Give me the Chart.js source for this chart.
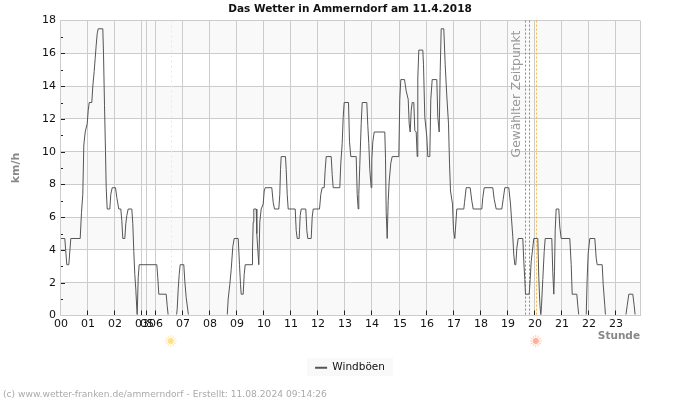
<!DOCTYPE html>
<html>
<head>
<meta charset="utf-8">
<title>Das Wetter in Ammerndorf</title>
<script src="https://cdn.jsdelivr.net/npm/chart.js@4"></script>
<style>
  html, body { margin: 0; padding: 0; background: #fff; }
  canvas { display: block; }
</style>
</head>
<body>
<canvas id="myChart" width="700" height="400"></canvas>
<script>
// sample number along the axis: the night hours 03-06 have few samples, so the hours are not evenly spaced
const hourLabels = ["00","01","02","03","05","06","07","08","09","10","11","12","13","14","15","16","17","18","19","20","21","22","23"];
const hourSlots = [0,27,54,81,86,95,122,149,176,203,230,257,284,311,339,366,393,420,447,474,501,528,555];
const lastSlot = 580;
const yTicks = [0,1,2,3,4,5,6,7,8,9,10,11,12,13,14,15,16,17,18];

const gustSlots = [
  0,4.8,6.8,8.8,10.8,20.2,21.5,22.8,23.8,25.2,27.2,28.2,29.2,31.8,32.8,34.2,35.2,36.2,37.2,38.2,
  42.8,43.5,44.5,45.5,46.2,47.2,49.8,50.8,52.2,55.5,56.8,58.8,60.8,61.8,62.8,64.8,65.8,66.8,68.2,71.8,
  72.8,73.8,74.8,75.8,76.8,77.2,77.8,78.2,79.2,96.8,97.8,98.8,106.2,107.2,108.2,116.5,117.2,118.2,119.2,120.2,
  123.8,124.8,126.2,128.5,167.2,168.2,169.8,171.2,172.8,174.2,178.2,179.5,180.5,181.2,183.2,184.2,185.2,192.2,
  192.5,193.2,193.8,196.2,196.8,197.8,198.8,199.8,201.2,203.2,204.2,205.2,211.8,213.2,214.5,218.8,219.8,220.5,221.2,
  225.5,226.2,227.2,228.2,235.2,236.2,237.2,239.2,240.2,241.2,245.8,246.8,247.8,251.2,252.2,253.2,259.5,260.8,262.2,
  264.2,265.2,266.2,271.2,272.2,273.2,279.8,280.8,282.2,283.2,284.2,288.5,289.5,290.8,296.2,297.2,298.2,298.8,299.8,
  301.2,302.2,306.8,307.8,308.8,309.8,311.2,311.8,312.8,314.2,324.8,325.5,326.2,327.2,328.2,329.2,330.8,332.2,338.8,
  339.8,340.8,344.5,346.2,348.2,349.2,350.2,351.2,352.2,353.8,354.8,356.2,357.2,357.8,358.8,362.8,363.5,364.8,366.8,
  367.8,369.8,370.8,372.2,376.8,377.8,379.2,380.2,381.2,383.8,385.2,386.8,388.5,389.5,390.5,392.5,393.5,394.8,396.8,
  403.8,404.5,406.2,410.2,411.8,413.2,421.8,422.8,424.2,432.8,434.2,436.2,441.8,443.2,444.8,448.8,450.5,451.5,452.8,
  453.8,454.8,455.8,456.8,458.2,462.8,463.8,464.8,465.5,469.2,470.2,471.2,472.5,473.8,477.8,478.8,479.8,480.8,481.5,
  482.8,484.2,485.2,491.8,492.8,493.8,494.5,495.2,496.2,498.8,499.8,501.2,509.8,511.2,512.2,516.8,517.8,518.8,526.2,
  527.2,528.2,529.8,534.8,536.2,537.2,542.2,543.2,544.8,545.5,565.8,567.2,568.8,572.8,574.2,575.2,579.5
];
const gustValues = [
  4.7,4.7,3.1,3.1,4.7,4.7,6.3,7.4,10.4,11.2,11.7,12.5,13,13,14,14.9,15.7,16.5,17.2,17.5,
  17.5,16,12.8,10,7.8,6.5,6.5,7.4,7.8,7.8,7.2,6.5,6.5,5.8,4.7,4.7,5.6,6.1,6.5,6.5,
  5.6,3.9,2.5,1.6,0.4,0,0,2.3,3.1,3.1,2.3,1.3,1.3,0.6,0,0,0.4,1.6,2.5,3.1,
  3.1,2.1,1.1,0,0,1,1.9,2.8,4.2,4.7,4.7,3.1,1.9,1.3,1.3,2.5,3.1,3.1,
  4,5.7,6.5,6.5,5,4,3.1,5.7,6.5,6.8,7.6,7.8,7.8,6.9,6.5,6.5,7.4,8.9,9.7,
  9.7,8.9,7.4,6.5,6.5,5.2,4.7,4.7,6.1,6.5,6.5,5.2,4.7,4.7,6,6.5,6.5,7.4,7.8,
  7.8,8.9,9.7,9.7,8.6,7.8,7.8,9.3,10.5,12.1,13,13,10.6,9.7,9.7,7.4,6.5,7.4,9.2,
  11.7,13,13,11.6,10.5,8.9,7.8,9.5,10.6,11.2,11.2,9.6,6.3,4.7,7,8.2,9.3,9.7,9.7,
  13.2,14.4,14.4,13.7,13.2,11.7,11.2,12.5,13,13,11.3,11.2,9.7,14.5,16.2,16.2,15.3,12.1,10.9,
  9.7,9.7,13.2,14.4,14.4,12.1,11.2,14.9,17.5,17.5,15.3,13.4,11.7,9.3,7.6,6.8,5.2,4.7,6.5,
  6.5,6.9,7.8,7.8,7,6.5,6.5,7.2,7.8,7.8,7.1,6.5,6.5,7.1,7.8,7.8,6.8,5.9,4.8,
  3.7,3.1,3.1,4.1,4.7,4.7,3.3,2.2,1.3,1.3,2.2,3.3,4,4.7,4.7,2.3,0.8,0,0.6,
  2.2,3.9,4.7,4.7,2.6,1.3,2.7,5.2,6.5,6.5,5.4,4.7,4.7,3.1,1.3,1.3,0.6,0,0,
  2.3,3.8,4.7,4.7,3.5,3.1,3.1,1.9,0.6,0,0,0.6,1.3,1.3,0.6,0,0
];

const sunriseSlot = 110.8;
const sunsetSlot = 475.8;
const chosenSlots = [465.2, 469.2];
const chosenLabelSlot = 456.5;

const extras = {
  id: "extras",
  beforeDatasetsDraw(chart) {
    const c = chart.ctx, a = chart.chartArea, y = chart.scales.y, x = chart.scales.x;
    c.save();
    // grey bands every second 2 km/h, under the grid
    c.globalCompositeOperation = "destination-over";
    c.fillStyle = "#f9f9f9";
    for (let v = 0; v < 18; v += 4) {
      const t = y.getPixelForValue(v + 2), b = y.getPixelForValue(v);
      c.fillRect(a.left, t, a.width, b - t);
    }
    c.globalCompositeOperation = "source-over";
    const vline = (slot, color, dash) => {
      const px = Math.round(x.getPixelForValue(slot)) + 0.5;
      c.strokeStyle = color;
      c.lineWidth = 1;
      c.setLineDash(dash);
      c.beginPath();
      c.moveTo(px, a.top);
      c.lineTo(px, a.bottom);
      c.stroke();
    };
    vline(lastSlot, "#cccccc", []);
    vline(sunriseSlot, "#f5f0a0", [2, 3]);
    vline(sunsetSlot, "#ffb733", [2, 2]);
    chosenSlots.forEach(s => vline(s, "#888888", [2, 2]));
    c.setLineDash([]);
    // label of the chosen time
    c.translate(x.getPixelForValue(chosenLabelSlot), y.getPixelForValue(9.65));
    c.rotate(-Math.PI / 2);
    c.fillStyle = "#999999";
    c.font = "12.3px 'DejaVu Sans'";
    c.textAlign = "left";
    c.textBaseline = "middle";
    c.fillText("Gewählter Zeitpunkt", 0, 0);
    c.restore();
  },
  afterDatasetsDraw(chart) {
    const c = chart.ctx, a = chart.chartArea, y = chart.scales.y, x = chart.scales.x;
    c.save();
    // tick marks point into the plot
    c.strokeStyle = "#222222";
    c.lineWidth = 1;
    c.beginPath();
    yTicks.forEach(v => {
      if (v === 0 || v === 18) return;
      const py = Math.round(y.getPixelForValue(v)) + 0.5;
      c.moveTo(a.left, py);
      c.lineTo(a.left + (v % 2 ? 3 : 5), py);
    });
    hourSlots.forEach(s => {
      const px = Math.round(x.getPixelForValue(s)) + 0.5;
      c.moveTo(px, a.bottom);
      c.lineTo(px, a.bottom - 5);
    });
    c.stroke();
    // suns under the axis
    drawSun(c, x.getPixelForValue(sunriseSlot), 341, "#ffe08a");
    drawSun(c, x.getPixelForValue(sunsetSlot), 341, "#ffb09a");
    // legend box and credit line
    c.globalCompositeOperation = "destination-over";
    c.fillStyle = "#f9f9f9";
    c.fillRect(307, 358, 86, 18);
    c.globalCompositeOperation = "source-over";
    c.fillStyle = "#aaaaaa";
    c.font = "9.15px 'DejaVu Sans'";
    c.textAlign = "left";
    c.textBaseline = "alphabetic";
    c.fillText("(c) www.wetter-franken.de/ammerndorf - Erstellt: 11.08.2024 09:14:26", 3, 396.5);
    c.restore();
  }
};

function drawSun(c, px, py, color) {
  c.save();
  c.fillStyle = color;
  c.strokeStyle = color;
  c.lineWidth = 1;
  c.beginPath();
  c.arc(px, py, 3, 0, Math.PI * 2);
  c.fill();
  c.globalAlpha = 0.7;
  for (let i = 0; i < 12; i++) {
    const w = i * Math.PI / 6;
    c.beginPath();
    c.moveTo(px + Math.cos(w) * 3.5, py + Math.sin(w) * 3.5);
    c.lineTo(px + Math.cos(w) * 6, py + Math.sin(w) * 6);
    c.stroke();
  }
  c.restore();
}

const ctx = document.getElementById("myChart");
const myChart = new Chart(ctx, {
  type: "line",
  data: {
    datasets: [{
      label: "Windböen",
      data: gustSlots.map((s, i) => ({ x: s, y: gustValues[i] })),
      borderColor: "#555555",
      backgroundColor: "#555555",
      borderWidth: 1,
      pointRadius: 0,
      tension: 0,
      fill: false,
      clip: { left: 2, top: 2, right: 2, bottom: -1 }
    }]
  },
  plugins: [extras],
  options: {
    responsive: false,
    animation: false,
    layout: { padding: { left: 0, right: 0, top: 1, bottom: 17 } },
    plugins: {
      title: {
        display: true,
        text: "Das Wetter in Ammerndorf am 11.4.2018",
        color: "#111111",
        font: { family: "'DejaVu Sans'", size: 10.5, weight: "bold" },
        padding: { top: 2, bottom: 5 }
      },
      legend: {
        position: "bottom",
        labels: {
          usePointStyle: true,
          pointStyle: "line",
          pointStyleWidth: 12,
          boxHeight: 6,
          color: "#111111",
          font: { family: "'DejaVu Sans'", size: 10.5 },
          padding: 3,
          generateLabels: chart => Chart.defaults.plugins.legend.labels.generateLabels(chart).map(l => ({ ...l, lineWidth: 2 }))
        }
      },
      tooltip: { enabled: false }
    },
    scales: {
      x: {
        type: "linear",
        min: 0,
        max: lastSlot,
        afterBuildTicks: scale => { scale.ticks = hourSlots.map(v => ({ value: v })); },
        afterFit: scale => { scale.height = 44; },
        ticks: {
          autoSkip: false,
          maxRotation: 0,
          color: "#111111",
          font: { family: "'DejaVu Sans'", size: 11 },
          padding: 2,
          labelOffset: 1,
          callback: (value, i) => hourLabels[i]
        },
        grid: { color: "#cccccc", drawTicks: false, lineWidth: 1 },
        border: { color: "#cccccc", z: 1 },
        title: {
          display: true,
          text: "Stunde",
          align: "end",
          color: "#888888",
          font: { family: "'DejaVu Sans'", size: 10.5, weight: "bold" },
          padding: { top: 0, bottom: 17 }
        }
      },
      y: {
        min: 0,
        max: 18,
        afterBuildTicks: scale => { scale.ticks = yTicks.map(v => ({ value: v })); },
        afterFit: scale => { scale.width = 60; },
        ticks: {
          autoSkip: false,
          color: "#111111",
          font: { family: "'DejaVu Sans'", size: 11 },
          padding: 4,
          callback: value => (value % 2 === 0 ? String(value) : "")
        },
        grid: {
          color: c => (c.tick && c.tick.value % 2 === 0 ? "#cccccc" : "rgba(0,0,0,0)"),
          drawTicks: false,
          lineWidth: 1
        },
        border: { color: "#cccccc", z: 1 },
        title: {
          display: true,
          text: "km/h",
          color: "#888888",
          font: { family: "'DejaVu Sans'", size: 11, weight: "bold" },
          padding: { top: 10, bottom: 8 }
        }
      },
      // empty axis: keeps the right margin without moving the centred title and legend
      rightMargin: {
        position: "right",
        afterFit: scale => { scale.width = 60; },
        ticks: { display: false },
        grid: { display: false, drawOnChartArea: false },
        border: { display: false }
      }
    }
  }
});
</script>
</body>
</html>
